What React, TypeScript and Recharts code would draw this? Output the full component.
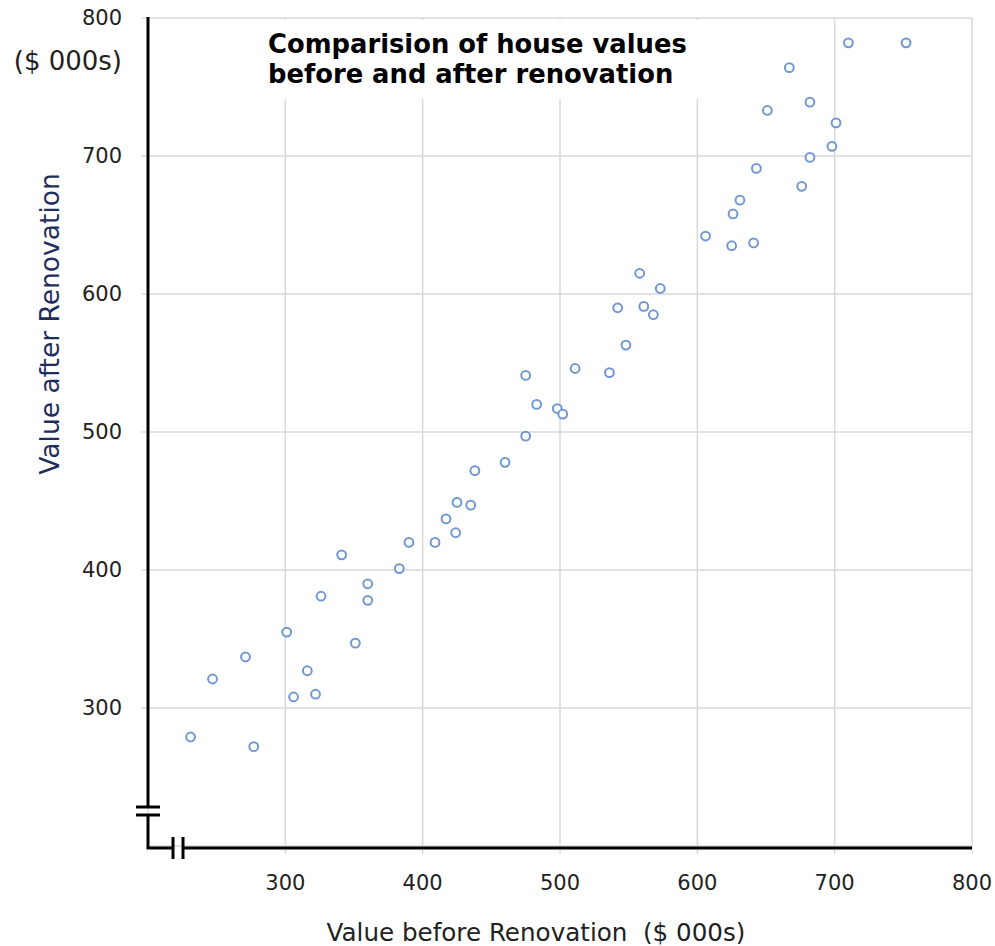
import { ScatterChart, Scatter, XAxis, YAxis, CartesianGrid } from 'recharts'

// house values, $ 000s
const beforeValues = [
  231, 247, 271, 277, 301, 306, 316, 322, 326, 341,
  351, 360, 360, 383, 390, 409, 417, 424, 425, 435,
  438, 460, 475, 475, 483, 498, 502, 511, 536, 548,
  542, 561, 568, 558, 573, 606, 625, 641, 626, 631,
  643, 676, 682, 698, 701, 651, 682, 667, 710, 752,
]
const afterValues = [
  279, 321, 337, 272, 355, 308, 327, 310, 381, 411,
  347, 390, 378, 401, 420, 420, 437, 427, 449, 447,
  472, 478, 497, 541, 520, 517, 513, 546, 543, 563,
  590, 591, 585, 615, 604, 642, 635, 637, 658, 668,
  691, 678, 699, 707, 724, 733, 739, 764, 782, 782,
]
const xTicks = [300, 400, 500, 600, 700, 800]
const yTicks = [300, 400, 500, 600, 700, 800]

const points = beforeValues.map((b, i) => ({ before: b, after: afterValues[i] }))

const FONT = '"DejaVu Sans", Verdana, sans-serif'
const TEXT = '#222'

function HollowDot(props: any) {
  const { cx, cy } = props
  return <circle cx={cx} cy={cy} r={4.4} fill="#fff" stroke="#7198d0" strokeWidth={2} />
}

export default function App() {
  return (
    <div style={{ position: 'absolute', left: 0, top: 0, width: 995, height: 946, background: '#fff' }}>
      <ScatterChart
        width={995}
        height={946}
        margin={{ top: 18, right: 23, bottom: 40, left: 88 }}
        style={{ position: 'absolute', left: 0, top: 0 }}
      >
        <CartesianGrid stroke="#d9d9d9" strokeWidth={1.5} />
        <XAxis
          type="number"
          dataKey="before"
          domain={[200, 800]}
          ticks={xTicks}
          height={60}
          axisLine={false}
          tickLine={{ stroke: '#d0d0d0' }}
          tickSize={8}
          tickMargin={21}
          tick={{ fill: TEXT, fontSize: 21, fontFamily: FONT }}
        />
        <YAxis
          type="number"
          dataKey="after"
          domain={[200, 800]}
          ticks={yTicks}
          width={60}
          axisLine={false}
          tickLine={{ stroke: '#d0d0d0' }}
          tickSize={7}
          tickMargin={19}
          tick={{ fill: TEXT, fontSize: 21, fontFamily: FONT }}
        />
        <Scatter data={points} shape={<HollowDot />} isAnimationActive={false} />
      </ScatterChart>

      <svg width={995} height={946} style={{ position: 'absolute', left: 0, top: 0, pointerEvents: 'none' }}>
        {/* title box hides the grid behind the title */}
        <rect x={258} y={20} width={460} height={79} fill="#fff" />
        <text x={268} y={53} fontFamily={FONT} fontWeight="bold" fontSize={25.8} fill="#000">
          Comparision of house values
        </text>
        <text x={268} y={83} fontFamily={FONT} fontWeight="bold" fontSize={25.8} fill="#000">
          before and after renovation
        </text>

        {/* broken axes */}
        <g stroke="#000" strokeWidth={3} fill="none">
          <path d="M148 17 V807" />
          <path d="M136 807 H160 M136 815 H160" />
          <path d="M148 815 V848 H173" />
          <path d="M173 837 V859 M183 837 V859" />
          <path d="M183 848 H972" />
        </g>

        <text x={122} y={70} textAnchor="end" fontFamily={FONT} fontSize={26} fill={TEXT}>
          ($ 000s)
        </text>
        <text
          x={59}
          y={324}
          textAnchor="middle"
          transform="rotate(-90 59 324)"
          fontFamily={FONT}
          fontSize={26.5}
          fill="#1f2f5c"
        >
          Value after Renovation
        </text>
        <text
          x={536}
          y={941}
          textAnchor="middle"
          fontFamily={FONT}
          fontSize={24.6}
          fill={TEXT}
          style={{ whiteSpace: 'pre' }}
        >
          {'Value before Renovation  ($ 000s)'}
        </text>
      </svg>
    </div>
  )
}
